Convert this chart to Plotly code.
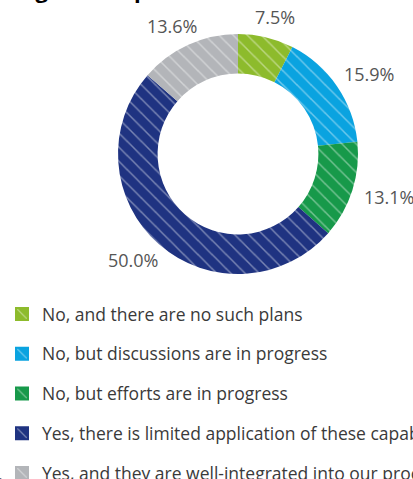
import math
import plotly.graph_objects as go

labels = [
    "No, and there are no such plans",
    "No, but discussions are in progress",
    "No, but efforts are in progress",
    "Yes, there is limited application of these capabilities",
    "Yes, and they are well-integrated into our processes",
]
values = [7.5, 15.9, 13.1, 50.0, 13.6]
colors = ["#8dbb2c", "#0aa3e0", "#17994a", "#1f3381", "#b3b5b9"]

title = "Big data capabilities in the network"

W, H = 413, 479
cx, cy, r_out = 238, 154, 120   # donut centre / radius in px


def hatch(bg):
    return dict(shape="\\", fillmode="overlay", bgcolor=bg, fgcolor="white",
                fgopacity=0.4, size=10, solidity=0.15)


fig = go.Figure()

fig.add_trace(go.Pie(
    labels=labels,
    values=values,
    sort=False,
    direction="clockwise",
    rotation=0,
    hole=0.67,
    marker=dict(colors=colors, pattern=hatch(colors), line=dict(width=0)),
    textinfo="none",
    showlegend=False,
    hoverinfo="label+percent",
    domain=dict(x=[(cx - r_out) / W, (cx + r_out) / W],
                y=[1 - (cy + r_out) / H, 1 - (cy - r_out) / H]),
))

# percentage labels outside the ring, placed at each slice's mid angle
total = sum(values)
cum = 0
for v in values:
    ang = (cum + v / 2) / total * 2 * math.pi
    cum += v
    s, c = math.sin(ang), math.cos(ang)
    lx = cx + (135 + 24) * s
    ly = cy - (132 + 9) * c
    fig.add_annotation(
        text=f"{v:.1f}%",
        xref="paper", yref="paper",
        x=lx / W, y=1 - ly / H,
        xanchor="center", yanchor="middle",
        showarrow=False,
        font=dict(family="Open Sans", size=18, color="#555555"),
    )

# legend entries (one group each so the rows can be spaced out)
for i, lab in enumerate(labels):
    fig.add_trace(go.Bar(
        x=[0], y=[0],
        name=lab,
        legendgroup=str(i),
        marker=dict(color=colors[i], pattern=hatch(colors[i]),
                    line=dict(width=2, color=colors[i])),
        showlegend=True,
        hoverinfo="skip",
    ))

# title sits mostly above the visible area, as in the cropped original
fig.add_annotation(
    text="<b>" + title + "</b>",
    xref="paper", yref="paper",
    x=0.03, y=1 - 5.5 / H,
    xanchor="left", yanchor="bottom",
    showarrow=False,
    font=dict(family="Open Sans", size=22, color="#000000"),
)

fig.update_layout(
    width=W, height=H,
    margin=dict(l=0, r=0, t=0, b=0, autoexpand=False),
    paper_bgcolor="white",
    plot_bgcolor="rgba(0,0,0,0)",
    xaxis=dict(visible=False, domain=[0, 0.01], range=[0, 1], fixedrange=True),
    yaxis=dict(visible=False, domain=[0, 0.01], range=[0, 1], fixedrange=True),
    legend=dict(
        x=2 / W, y=1 - 296 / H,
        xanchor="left", yanchor="top",
        traceorder="grouped",
        tracegroupgap=14,
        font=dict(family="Open Sans", size=17.5, color="#3a3a3a"),
        bgcolor="rgba(0,0,0,0)",
    ),
)

fig.write_html("out.html",
               config={"displayModeBar": False},
               post_script="document.body.style.margin='0';"
                           "document.body.style.overflow='hidden';")
